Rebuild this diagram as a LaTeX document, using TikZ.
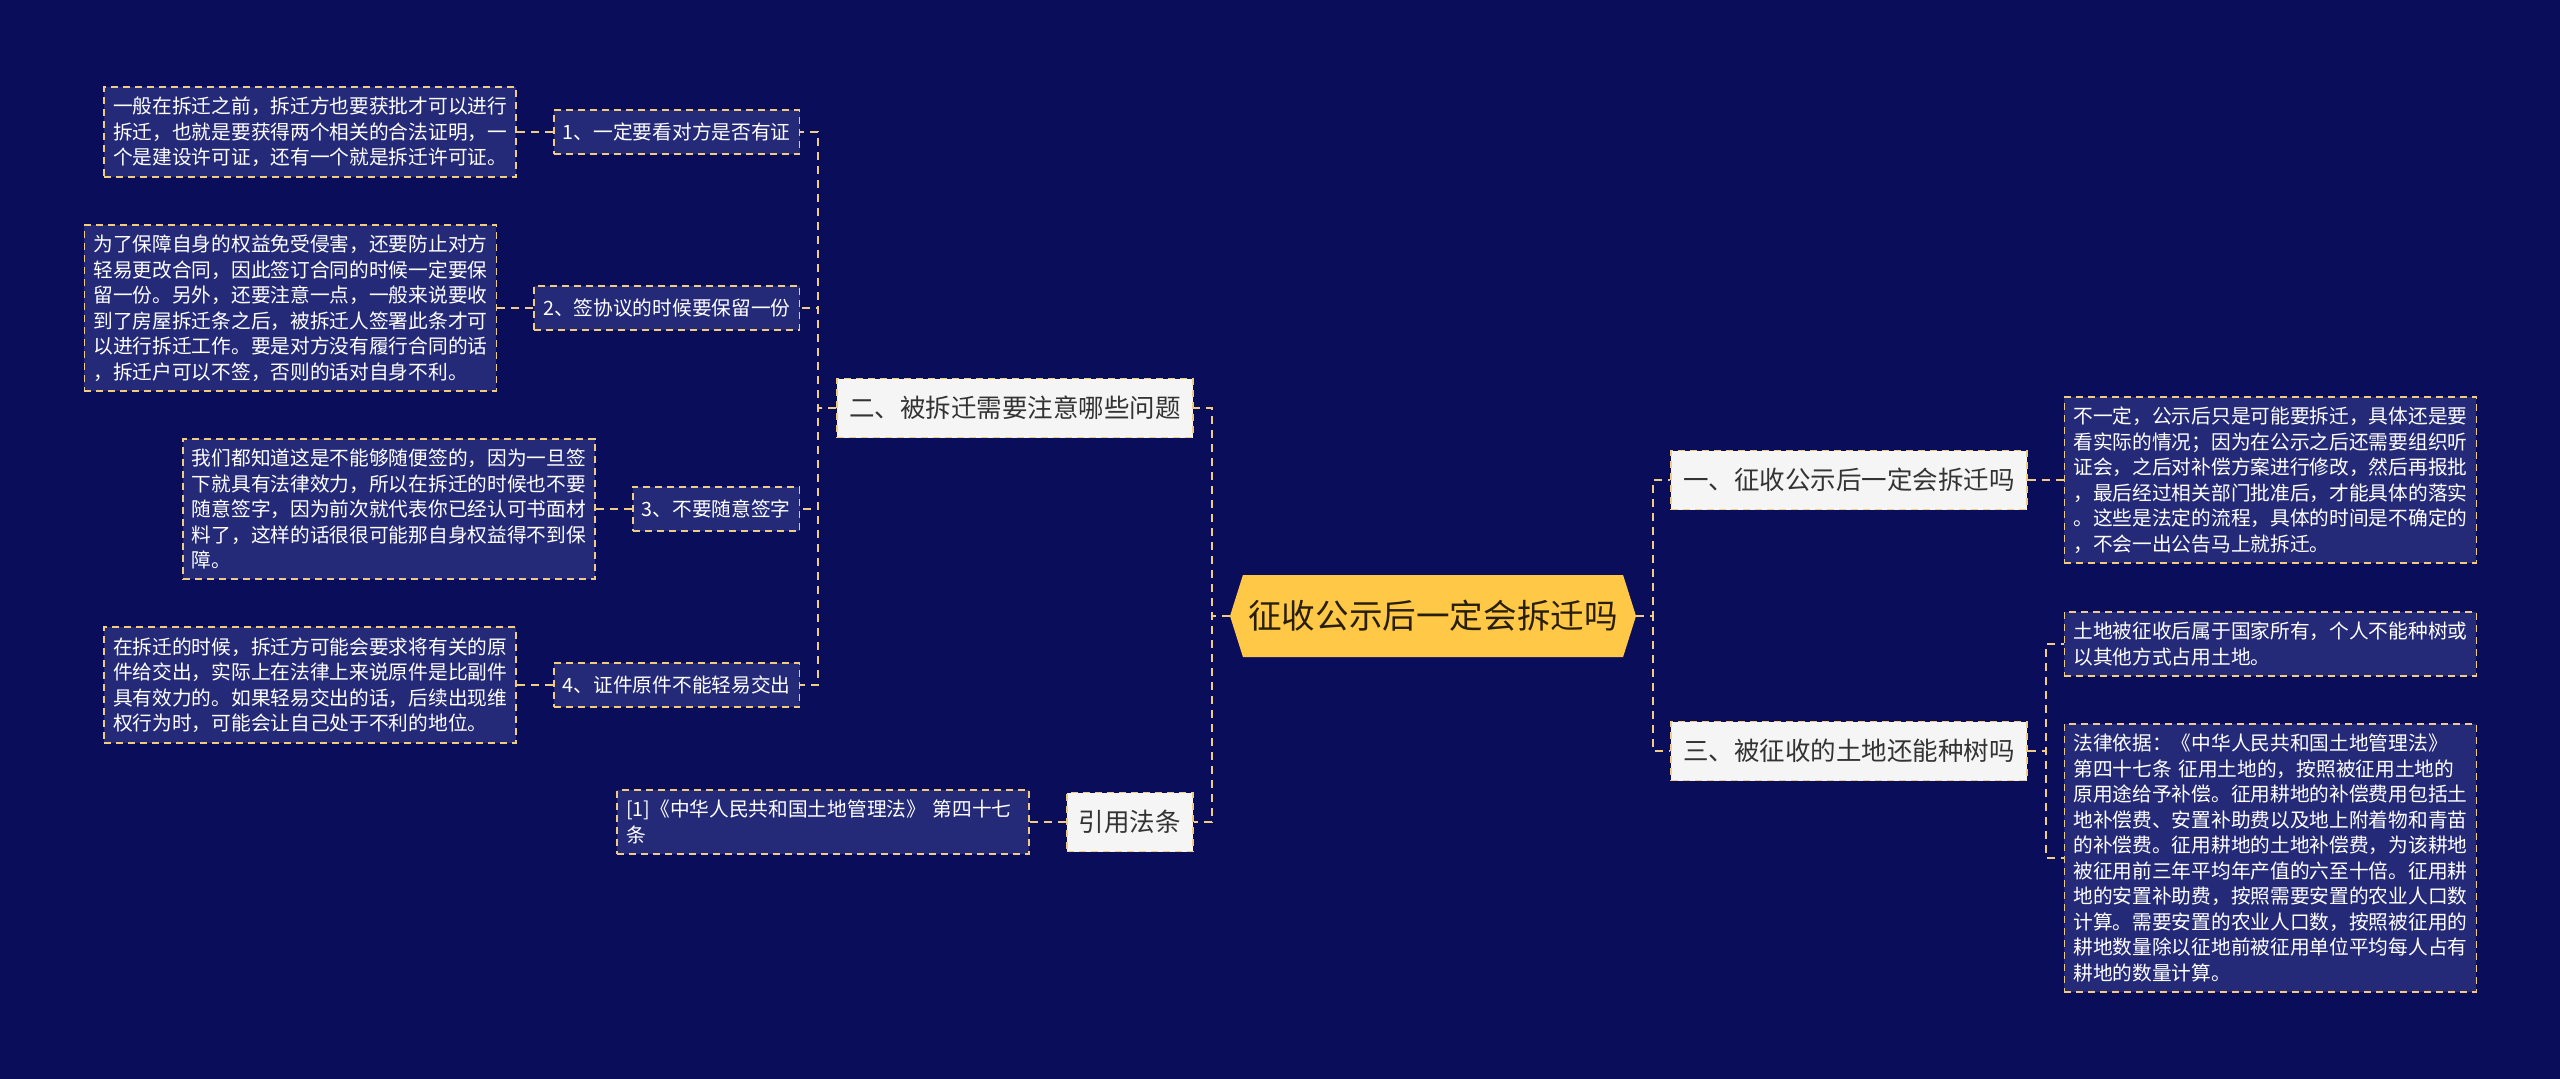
\documentclass[tikz,border=0pt]{standalone}
\usepackage{fontspec}
\newfontfamily\cjk{Noto Sans CJK SC}
\usetikzlibrary{positioning, shapes.symbols}

\definecolor{bgnavy}{RGB}{10,14,90}
\definecolor{leafblue}{RGB}{37,42,120}
\definecolor{lineyellow}{RGB}{240,203,130}
\definecolor{rootyellow}{RGB}{255,200,70}
\definecolor{rootink}{RGB}{40,30,10}
\definecolor{topicwhite}{RGB}{245,245,245}
\definecolor{topicink}{RGB}{51,51,51}

\begin{document}
\begin{tikzpicture}[
    x=1pt, y=1pt, node distance=36pt,
    root/.style={signal, signal to=west and east, signal pointer angle=145, fill=rootyellow, text=rootink, minimum width=406pt, minimum height=82pt, inner sep=0pt, font=\cjk\fontsize{33.6}{40}\selectfont},
    topic/.style={rectangle, draw=lineyellow, line width=1.8pt, dash pattern=on 7pt off 5pt, fill=topicwhite, text=topicink, minimum height=59pt, inner xsep=12pt, font=\cjk\fontsize{25.5}{30}\selectfont},
    sub/.style={rectangle, draw=lineyellow, line width=1.8pt, dash pattern=on 7pt off 5pt, fill=leafblue, text=white, minimum height=44pt, inner xsep=9pt, font=\cjk\fontsize{19.7}{25.5}\selectfont},
    leaf/.style={rectangle, draw=lineyellow, line width=1.8pt, dash pattern=on 7pt off 5pt, fill=leafblue, text=white, text width=394pt, align=left, inner xsep=9pt, inner ysep=10pt, font=\cjk\fontsize{19.7}{25.5}\selectfont},
    link/.style={draw=lineyellow, line width=2pt, dash pattern=on 8pt off 6pt}
    ]
    \fill[bgnavy] (0,0) rectangle (2560,-1079);
    \useasboundingbox (0,0) rectangle (2560,-1079);

    \node[root] (root) at (1433,-616) {征收公示后一定会拆迁吗};

    % left side
    \node[topic, left=of root, yshift=208pt] (two) {二、被拆迁需要注意哪些问题};
    \node[topic, left=of root, yshift=-206pt] (cite) {引用法条};

    \node[sub, left=of two, yshift=276pt] (s1) {1、一定要看对方是否有证};
    \node[sub, left=of two, yshift=100pt] (s2) {2、签协议的时候要保留一份};
    \node[sub, left=of two, yshift=-101pt] (s3) {3、不要随意签字};
    \node[sub, left=of two, yshift=-277pt] (s4) {4、证件原件不能轻易交出};

    \node[leaf, left=of s1] (l1) {一般在拆迁之前，拆迁方也要获批才可以进行\\拆迁，也就是要获得两个相关的合法证明，一\\个是建设许可证，还有一个就是拆迁许可证。};
    \node[leaf, left=of s2] (l2) {为了保障自身的权益免受侵害，还要防止对方\\轻易更改合同，因此签订合同的时候一定要保\\留一份。另外，还要注意一点，一般来说要收\\到了房屋拆迁条之后，被拆迁人签署此条才可\\以进行拆迁工作。要是对方没有履行合同的话\\，拆迁户可以不签，否则的话对自身不利。};
    \node[leaf, left=of s3] (l3) {我们都知道这是不能够随便签的，因为一旦签\\下就具有法律效力，所以在拆迁的时候也不要\\随意签字，因为前次就代表你已经认可书面材\\料了，这样的话很很可能那自身权益得不到保\\障。};
    \node[leaf, left=of s4] (l4) {在拆迁的时候，拆迁方可能会要求将有关的原\\件给交出，实际上在法律上来说原件是比副件\\具有效力的。如果轻易交出的话，后续出现维\\权行为时，可能会让自己处于不利的地位。};
    \node[leaf, left=of cite] (ref) {[1]《中华人民共和国土地管理法》 第四十七\\条};

    % right side
    \node[topic, right=34pt of root, yshift=136pt] (one) {一、征收公示后一定会拆迁吗};
    \node[topic, right=34pt of root, yshift=-135pt] (three) {三、被征收的土地还能种树吗};

    \node[leaf, right=of one] (r1) {不一定，公示后只是可能要拆迁，具体还是要\\看实际的情况；因为在公示之后还需要组织听\\证会，之后对补偿方案进行修改，然后再报批\\，最后经过相关部门批准后，才能具体的落实\\。这些是法定的流程，具体的时间是不确定的\\，不会一出公告马上就拆迁。};
    \node[leaf, right=of three, yshift=107pt] (r2) {土地被征收后属于国家所有，个人不能种树或\\以其他方式占用土地。};
    \node[leaf, right=of three, yshift=-107pt] (r3) {法律依据：《中华人民共和国土地管理法》\\第四十七条 征用土地的，按照被征用土地的\\原用途给予补偿。征用耕地的补偿费用包括土\\地补偿费、安置补助费以及地上附着物和青苗\\的补偿费。征用耕地的土地补偿费，为该耕地\\被征用前三年平均年产值的六至十倍。征用耕\\地的安置补助费，按照需要安置的农业人口数\\计算。需要安置的农业人口数，按照被征用的\\耕地数量除以征地前被征用单位平均每人占有\\耕地的数量计算。};

    % connectors
    \draw[link] (root.west) -- ++(-18pt,0) |- (two.east);
    \draw[link] (root.west) -- ++(-18pt,0) |- (cite.east);
    \foreach \s in {s1,s2,s3,s4}
        \draw[link] (two.west) -- ++(-18pt,0) |- (\s.east);
    \draw[link] (s1.west) -- (l1.east);
    \draw[link] (s2.west) -- (l2.east);
    \draw[link] (s3.west) -- (l3.east);
    \draw[link] (s4.west) -- (l4.east);
    \draw[link] (cite.west) -- (ref.east);
    \draw[link] (root.east) -- ++(17pt,0) |- (one.west);
    \draw[link] (root.east) -- ++(17pt,0) |- (three.west);
    \draw[link] (one.east) -- (r1.west);
    \draw[link] (three.east) -- ++(18pt,0) |- (r2.west);
    \draw[link] (three.east) -- ++(18pt,0) |- (r3.west);
\end{tikzpicture}
\end{document}
